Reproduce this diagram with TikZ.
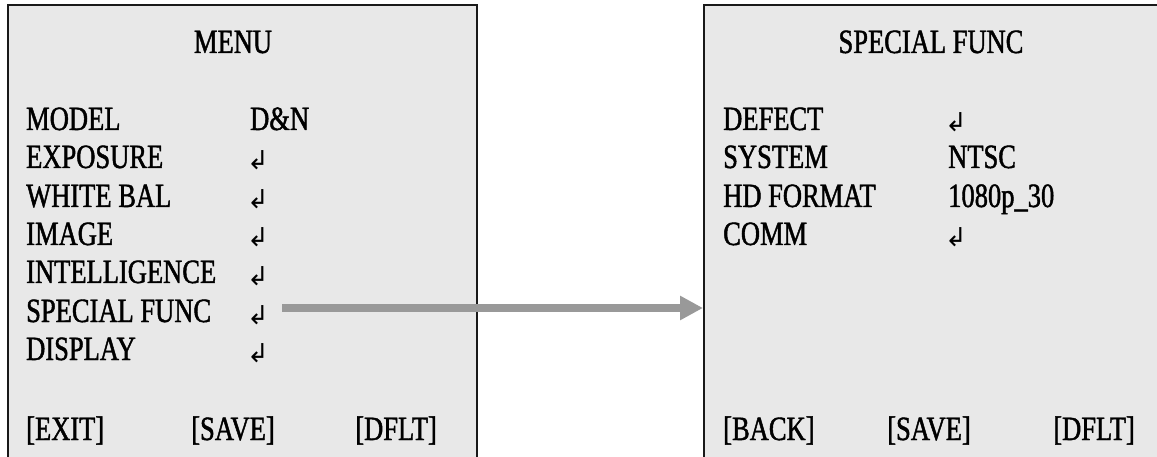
\documentclass[tikz,border=0pt]{standalone}
\usepackage{fontspec}
\setmainfont{Liberation Serif}[FakeStretch=0.78, FakeBold=1.3]
\newfontfamily\enterfont{DejaVu Sans}
\usetikzlibrary{arrows.meta}
\definecolor{OSDGray}{HTML}{E8E8E8}
\definecolor{OSDArrow}{HTML}{999999}
\colorlet{boxbgcolor}{OSDGray}

\begin{document}
\begin{tikzpicture}[x=1pt, y=-1pt,
    osdbox/.style={draw=black!90, line width=2pt, fill=boxbgcolor, rectangle, anchor=north west, minimum width=469pt, minimum height=480pt, inner sep=0pt},
    osdtext/.style={font=\fontsize{34}{40}\selectfont, inner sep=0pt, anchor=base west},
    osdenter/.style={font=\enterfont\fontsize{26}{28}\selectfont, inner sep=0pt, anchor=base west}]
  \useasboundingbox (0,0) rectangle (1157,457);
  \node[osdbox] at (7,4) (mainmenu) {};
  \node[osdbox] at (703,4) (specialmenu) {};

  \node[osdtext, anchor=base] at (233,53) (menutitle) {MENU};
  \node[osdtext] at (26,130) (model) {MODEL};
  \node[osdtext] at (250,130) (modelval) {D\&N};
  \node[osdtext] at (26,168) (exposure) {EXPOSURE};
  \node[osdenter] at (247,170) (exposureenter) {↲};
  \node[osdtext] at (26,207) (whitebal) {WHITE BAL};
  \node[osdenter] at (247,209) (whitebalenter) {↲};
  \node[osdtext] at (26,245) (image) {IMAGE};
  \node[osdenter] at (247,247) (imageenter) {↲};
  \node[osdtext] at (26,283) (intelligence) {INTELLIGENCE};
  \node[osdenter] at (247,285) (intelligenceenter) {↲};
  \node[osdtext] at (26,322) (special) {SPECIAL FUNC};
  \node[osdenter] at (247,324) (specialenter) {↲};
  \node[osdtext] at (26,360) (display) {DISPLAY};
  \node[osdenter] at (247,362) (displayenter) {↲};
  \node[osdtext] at (26,440) (exit) {[EXIT]};
  \node[osdtext, anchor=base] at (233,440) (mainsave) {[SAVE]};
  \node[osdtext, anchor=base east] at (437,440) (maindflt) {[DFLT]};

  \node[osdtext, anchor=base] at (931,53) (specialtitle) {SPECIAL FUNC};
  \node[osdtext] at (723,130) (defect) {DEFECT};
  \node[osdenter] at (945,132) (defectenter) {↲};
  \node[osdtext] at (723,168) (system) {SYSTEM};
  \node[osdtext] at (948,168) (systemval) {NTSC};
  \node[osdtext] at (723,207) (hdformat) {HD FORMAT};
  \node[osdtext] at (948,207) (hdformatval) {1080p\_30};
  \node[osdtext] at (723,245) (comm) {COMM};
  \node[osdenter] at (945,247) (commenter) {↲};
  \node[osdtext] at (723,440) (back) {[BACK]};
  \node[osdtext, anchor=base] at (929,440) (specialsave) {[SAVE]};
  \node[osdtext, anchor=base east] at (1135,440) (specialdflt) {[DFLT]};

  \coordinate (arrowstart) at (282,308);
  \draw[OSDArrow, line width=8pt, -{Triangle[length=23pt, width=23pt]}] (arrowstart) -- (arrowstart -| specialmenu.west);
\end{tikzpicture}
\end{document}
